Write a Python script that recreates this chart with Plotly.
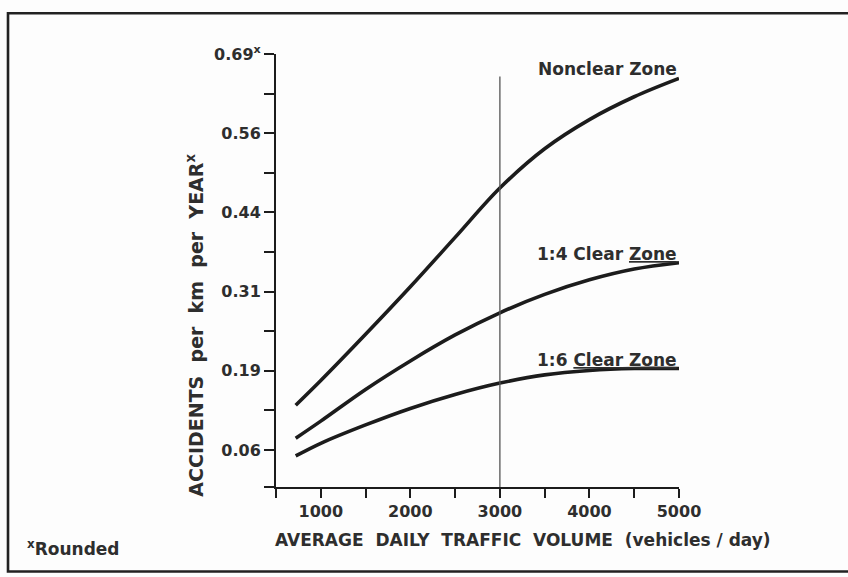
import plotly.graph_objects as go

# Average daily traffic volume (vehicles/day)
adt = [720, 1000, 1500, 2000, 2500, 3000, 3500, 4000, 4500, 5000]

# Accidents per km per year, by roadside condition
nonclear_zone = [0.133, 0.172, 0.245, 0.320, 0.398, 0.476, 0.538, 0.584, 0.620, 0.649]
clear_zone_1_4 = [0.081, 0.108, 0.158, 0.203, 0.244, 0.279, 0.308, 0.331, 0.348, 0.358]
clear_zone_1_6 = [0.053, 0.073, 0.102, 0.128, 0.150, 0.168, 0.181, 0.188, 0.191, 0.191]

series_names = ["Nonclear Zone", "1:4 Clear Zone", "1:6 Clear Zone"]
series_labels = ["Nonclear Zone", "1:4 Clear <u>Zone</u>", "1:6 <u>Clear Zone</u>"]

# Axis ticks (y ticks are rounded values of 1/16 steps)
x_tickvals = [500, 1000, 1500, 2000, 2500, 3000, 3500, 4000, 4500, 5000]
x_ticktext = ["", "1000", "", "2000", "", "3000", "", "4000", "", "5000"]
y_min = 0.004
y_tickvals = [y_min, 0.0625, 0.125, 0.1875, 0.25, 0.3125, 0.375, 0.4375, 0.5, 0.5625, 0.625, 0.6875]
y_ticktext = ["", "0.06", "", "0.19", "", "0.31", "", "0.44", "", "0.56", "", "0.69<sup>x</sup>"]

reference_adt = 3000
reference_line_top = 0.652

FONT = "DejaVu Sans, Liberation Sans, sans-serif"
INK = "#1c1c1c"
TEXT = "#2e2e2e"

fig = go.Figure()
for name, ys in zip(series_names, [nonclear_zone, clear_zone_1_4, clear_zone_1_6]):
    fig.add_trace(go.Scatter(
        x=adt, y=ys, mode="lines", name=name,
        line=dict(color=INK, width=3.6, shape="spline", smoothing=1.0),
        showlegend=False,
    ))

# Thin reference line at 3000 vehicles/day
fig.add_shape(type="line", xref="x", yref="y",
              x0=reference_adt, x1=reference_adt, y0=y_min, y1=reference_line_top,
              line=dict(color="#555555", width=1.3))

# Curve labels placed just above each curve's right end
for label, ys in zip(series_labels, [nonclear_zone, clear_zone_1_4, clear_zone_1_6]):
    fig.add_annotation(x=adt[-1], y=ys[-1], xref="x", yref="y",
                       text="<b>" + label + "</b>", showarrow=False,
                       xanchor="right", yanchor="bottom", yshift=-3,
                       font=dict(family=FONT, size=17, color=TEXT))

# Axis titles
fig.add_annotation(x=-0.202, y=0.374, xref="paper", yref="paper",
                   text="<b>ACCIDENTS  per  km  per  YEAR<sup>x</sup></b>", textangle=-90,
                   showarrow=False, xanchor="center", yanchor="middle",
                   font=dict(family=FONT, size=19, color=TEXT))
fig.add_annotation(x=0.613, y=-0.122, xref="paper", yref="paper",
                   text="<b>AVERAGE  DAILY  TRAFFIC  VOLUME  (vehicles / day)</b>",
                   showarrow=False, xanchor="center", yanchor="middle",
                   font=dict(family=FONT, size=17, color=TEXT))
fig.add_annotation(x=-0.622, y=-0.14, xref="paper", yref="paper",
                   text="<b><sup>x</sup>Rounded</b>", showarrow=False,
                   xanchor="left", yanchor="middle",
                   font=dict(family=FONT, size=17, color=TEXT))

# Outer frame
fig.add_shape(type="rect", xref="paper", yref="paper",
              x0=-0.665, x1=1.5, y0=-0.195, y1=1.094,
              line=dict(color="#222222", width=2.6), layer="below")

fig.update_xaxes(range=[500, 5000], tickvals=x_tickvals, ticktext=x_ticktext,
                 showline=True, linecolor=INK, linewidth=2,
                 ticks="outside", ticklen=9, tickwidth=2, tickcolor=INK,
                 showgrid=False, zeroline=False,
                 tickfont=dict(family=FONT, size=16, color=TEXT, weight="bold"))
fig.update_yaxes(range=[y_min, 0.6875], tickvals=y_tickvals, ticktext=y_ticktext,
                 showline=True, linecolor=INK, linewidth=2,
                 ticks="outside", ticklen=10, tickwidth=2, tickcolor=INK,
                 showgrid=False, zeroline=False,
                 tickfont=dict(family=FONT, size=16, color=TEXT, weight="bold"))

fig.update_layout(
    width=848, height=577,
    margin=dict(l=276, r=169, t=54, b=90),
    paper_bgcolor="#fdfdfd", plot_bgcolor="rgba(0,0,0,0)",
    font=dict(family=FONT, color=TEXT),
)

fig.write_html("out.html")
